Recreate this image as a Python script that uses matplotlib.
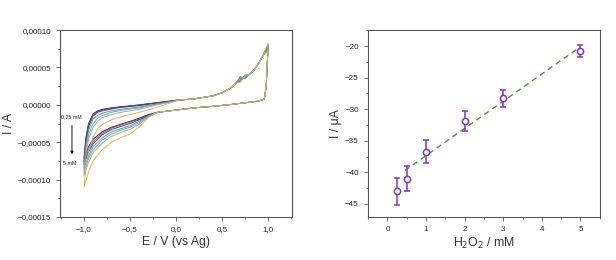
import matplotlib
matplotlib.use("Agg")
import matplotlib.pyplot as plt
import numpy as np
from matplotlib.ticker import MultipleLocator, FuncFormatter

plt.rcParams['font.family'] = ['Liberation Sans', 'DejaVu Sans']

# ---- CV data (current in 1e-5 A) ----
# sweep 0 -> 1 V (anodic), shared by all curves
e_anodic = [0.0, 0.2, 0.4, 0.5, 0.6, 0.65, 0.7, 0.75, 0.8, 0.85, 0.9, 0.95, 1.0]
i_anodic = [0.6, 0.8, 1.2, 1.6, 2.3, 2.9, 3.5, 3.7, 4.1, 4.7, 5.6, 6.7, 8.0]
# per-curve values at 0.7 V, 0.75 V and at the 1.0 V vertex
i_peak07 = [3.4, 3.6, 3.2, 3.8, 3.3, 3.5, 3.0]
i_peak075 = [3.9, 3.6, 3.8, 3.5, 4.0, 3.7, 3.9]
i_vertex = [7.9, 8.1, 7.6, 7.8, 7.4, 7.2, 8.2]

# return 1 -> -0.2 V, shared
e_return = [0.98, 0.96, 0.9, 0.8, 0.6, 0.4, 0.2, 0.0, -0.2]
i_return = [2.5, 0.8, 0.5, 0.35, 0.05, -0.2, -0.4, -0.7, -1.0]

# lower cathodic branch -0.3 -> -1.0 V, per curve
e_lower = [-0.3, -0.4, -0.5, -0.6, -0.7, -0.8, -0.9, -0.95, -1.0]
i_lower = [
    [-1.30, -1.8, -2.2, -2.6, -3.0, -3.6, -4.6, -5.6, -7.2],
    [-1.35, -1.9, -2.3, -2.7, -3.1, -3.8, -4.9, -6.0, -7.6],
    [-1.40, -2.0, -2.5, -2.9, -3.3, -4.0, -5.2, -6.3, -8.0],
    [-1.45, -2.2, -2.8, -3.2, -3.6, -4.4, -5.6, -6.8, -8.5],
    [-1.50, -2.4, -3.0, -3.4, -3.9, -4.7, -6.0, -7.2, -9.0],
    [-1.60, -2.6, -3.3, -3.7, -4.2, -5.1, -6.4, -7.7, -9.5],
    [-1.70, -3.0, -3.9, -4.4, -5.0, -6.0, -7.5, -9.0, -11.0],
]

# back sweep -1.0 -> 0 V, per curve
e_back = [-0.98, -0.95, -0.9, -0.85, -0.8, -0.7, -0.6, -0.4, -0.2, 0.0]
i_back = [
    [-4.5, -2.5, -1.2, -0.8, -0.6, -0.40, -0.25, 0.00, 0.30, 0.6],
    [-4.8, -2.7, -1.3, -0.9, -0.7, -0.45, -0.30, -0.05, 0.30, 0.6],
    [-5.0, -2.9, -1.5, -1.0, -0.8, -0.55, -0.35, -0.10, 0.25, 0.6],
    [-5.5, -3.4, -1.9, -1.4, -1.1, -0.80, -0.60, -0.30, 0.15, 0.55],
    [-6.0, -4.0, -2.5, -1.8, -1.4, -1.00, -0.75, -0.40, 0.10, 0.55],
    [-6.8, -4.6, -3.0, -2.2, -1.7, -1.30, -1.00, -0.60, 0.00, 0.5],
    [-8.6, -6.2, -4.3, -3.2, -2.6, -2.00, -1.60, -1.00, -0.30, 0.5],
]

cv_colors = ['#1c1c1c', '#b03a6a', '#2c3a94', '#3a9aa8', '#6aae6a', '#a596d6', '#d9b64a']

# ---- calibration data ----
conc = [0.25, 0.5, 1, 2, 3, 5]
current = [-43.0, -41.0, -36.7, -31.9, -28.3, -20.8]
current_err = [2.15, 2.0, 1.8, 1.6, 1.4, 1.0]


def comma_fmt(decimals):
    def f(v, pos):
        s = f"{v:.{decimals}f}".replace('.', ',')
        if s.startswith('-'):
            if float(s[1:].replace(',', '.')) == 0:
                s = s[1:]
            else:
                s = '\u2212' + s[1:]
        return s
    return FuncFormatter(f)


def style_axes(ax):
    for sp in ax.spines.values():
        sp.set_color('#555555')
        sp.set_linewidth(0.8)
    ax.tick_params(which='both', direction='out', colors='#555555', labelcolor='#222222',
                   labelsize=5.8, width=0.6)
    ax.tick_params(which='major', length=3)
    ax.tick_params(which='minor', length=1.6)


fig = plt.figure(figsize=(6.16, 2.6), dpi=100)
ax1 = fig.add_axes([0.0974, 0.1654, 0.3766, 0.719])
ax2 = fig.add_axes([0.597, 0.1654, 0.3766, 0.719])

for k in range(len(cv_colors)):
    ia = list(i_anodic)
    ia[6] = i_peak07[k]
    ia[7] = i_peak075[k]
    ia[-1] = i_vertex[k]
    e = e_anodic + e_return + e_lower + e_back
    i = ia + i_return + i_lower[k] + i_back[k]
    ax1.plot(e, np.array(i) * 1e-5, color=cv_colors[k], lw=0.65)

ax1.set_xlim(-1.26, 1.26)
ax1.set_ylim(-0.00015, 0.0001)
ax1.xaxis.set_major_locator(MultipleLocator(0.5))
ax1.xaxis.set_minor_locator(MultipleLocator(0.25))
ax1.yaxis.set_major_locator(MultipleLocator(0.00005))
ax1.yaxis.set_minor_locator(MultipleLocator(0.000025))
ax1.xaxis.set_major_formatter(comma_fmt(1))
ax1.yaxis.set_major_formatter(comma_fmt(5))
ax1.set_xlabel('E / V (vs Ag)', fontsize=8.8, color='#333333', labelpad=2)
ax1.set_ylabel('I / A', fontsize=8.8, color='#333333', labelpad=2)
style_axes(ax1)

ax1.text(-1.245, -0.000016, '0,25 mM', fontsize=3.8, va='center', ha='left', color='#222222')
ax1.text(-1.225, -0.000078, '5 mM', fontsize=3.8, va='center', ha='left', color='#222222')
ax1.annotate('', xy=(-1.13, -0.000070), xytext=(-1.13, -0.000024),
             arrowprops=dict(arrowstyle='-|>', color='#111111', lw=0.7,
                             mutation_scale=4))

# calibration plot
slope, intercept = np.polyfit(conc[1:], current[1:], 1)
fit_x = np.array([0.45, 5.0])
ax2.plot(fit_x, slope * fit_x + intercept, ls=(0, (4, 3)), color='#4f8f3f', lw=1.0)
ax2.errorbar(conc, current, yerr=current_err, fmt='o', mfc='white', mec='#7a36c8',
             ecolor='#7a36c8', ms=4.5, mew=1.1, elinewidth=1.1, capsize=2, capthick=1.0)
ax2.set_xlim(-0.51, 5.5)
ax2.set_ylim(-47.06, -17.47)
ax2.xaxis.set_major_locator(MultipleLocator(1))
ax2.xaxis.set_minor_locator(MultipleLocator(0.5))
ax2.yaxis.set_major_locator(MultipleLocator(5))
ax2.yaxis.set_minor_locator(MultipleLocator(2.5))
ax2.yaxis.set_major_formatter(FuncFormatter(lambda v, p: f"{v:.0f}".replace('-', '\u2212')))
ax2.set_xlabel('H$_2$O$_2$ / mM', fontsize=8.8, color='#333333', labelpad=2)
ax2.set_ylabel('I / \u03bcA', fontsize=8.8, color='#333333', labelpad=2)
style_axes(ax2)

fig.savefig('out.png', dpi=100)
